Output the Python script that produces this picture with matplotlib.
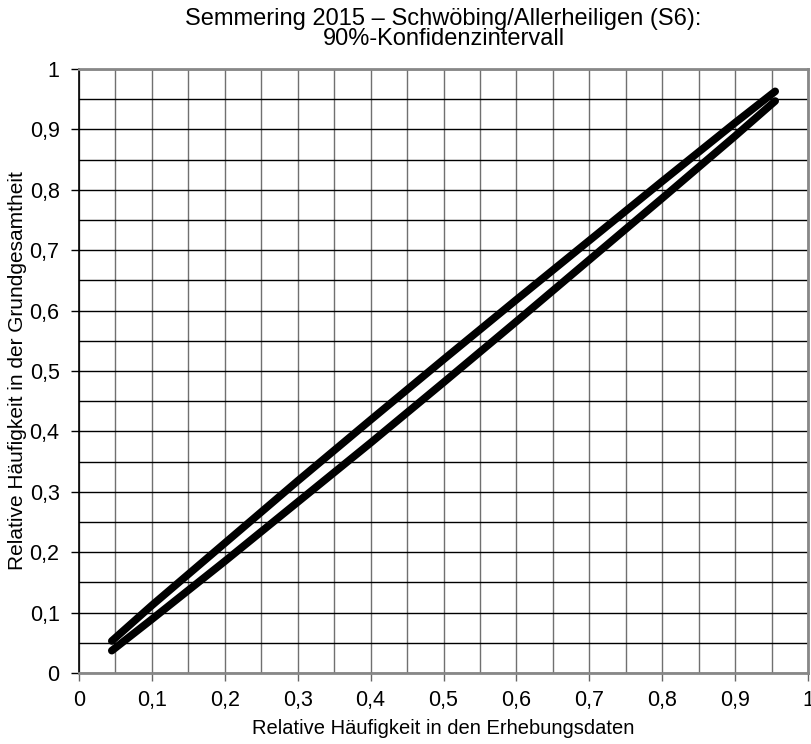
import numpy as np
import matplotlib
matplotlib.use("Agg")
import matplotlib.pyplot as plt
from matplotlib.ticker import MultipleLocator, FuncFormatter

plt.rcParams['font.family'] = ['Liberation Sans', 'DejaVu Sans']

# relative frequency in the survey data
x = [0.045, 0.1, 0.2, 0.3, 0.4, 0.5, 0.6, 0.7, 0.8, 0.9, 0.955]
# upper / lower bound of the 90% interval
upper = [0.053, 0.112, 0.215, 0.318, 0.419, 0.519, 0.618, 0.716, 0.814, 0.911, 0.963]
lower = [0.037, 0.089, 0.185, 0.283, 0.381, 0.481, 0.582, 0.684, 0.786, 0.889, 0.947]

title = "Semmering 2015 \u2013 Schw\u00f6bing/Allerheiligen (S6):\n90%-Konfidenzintervall"
xlabel = "Relative H\u00e4ufigkeit in den Erhebungsdaten"
ylabel = "Relative H\u00e4ufigkeit in der Grundgesamtheit"

fig = plt.figure(figsize=(8.11, 7.44), dpi=100)
ax = fig.add_axes([79/811, 1-673/744, 729/811, 604/744])

ax.set_xlim(0, 1)
ax.set_ylim(0, 1)
ax.xaxis.set_major_locator(MultipleLocator(0.1))
ax.yaxis.set_major_locator(MultipleLocator(0.1))
ax.xaxis.set_minor_locator(MultipleLocator(0.05))
ax.yaxis.set_minor_locator(MultipleLocator(0.05))

fmt = FuncFormatter(lambda v, p: ("%g" % round(v, 2)).replace(".", ","))
ax.xaxis.set_major_formatter(fmt)
ax.yaxis.set_major_formatter(fmt)

ax.xaxis.grid(True, which="both", color="#707070", lw=1.0)
ax.yaxis.grid(True, which="both", color="black", lw=1.0)
ax.set_axisbelow(True)

ax.tick_params(which="major", direction="out", length=6, width=1, labelsize=15.5)
ax.tick_params(axis="x", which="major", pad=6, colors="#666666", labelcolor="black")
ax.tick_params(axis="y", which="major", pad=8)
ax.tick_params(which="minor", length=0)

for s in ["top", "right", "bottom"]:
    ax.spines[s].set_color("#888888")
    ax.spines[s].set_linewidth(2)
ax.spines["left"].set_color("black")
ax.spines["left"].set_linewidth(1.2)

ax.plot(x, upper, color="black", lw=5.5, solid_capstyle="round", clip_on=False)
ax.plot(x, lower, color="black", lw=5.5, solid_capstyle="round", clip_on=False)

ax.set_title(title, fontsize=17, pad=17, linespacing=0.9)
ax.set_xlabel(xlabel, fontsize=14.5, labelpad=6)
ax.set_ylabel(ylabel, fontsize=15, labelpad=0)
ax.yaxis.set_label_coords(-52/729, 0.5)

fig.savefig("out.png", dpi=100)
